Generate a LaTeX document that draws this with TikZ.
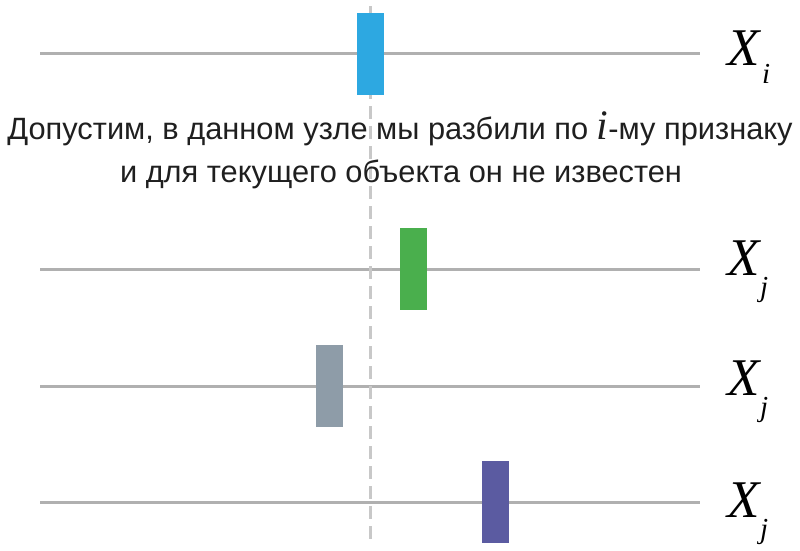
\documentclass[tikz,border=0pt]{standalone}
\usepackage{fontspec}
\setmainfont{Liberation Sans}
\newfontfamily\tms{Liberation Serif}
\definecolor{axisgray}{HTML}{B0B0B0}
\definecolor{dashgray}{HTML}{C8C8C8}
\definecolor{cblue}{HTML}{2DA8E1}
\definecolor{cgreen}{HTML}{4AAF4D}
\definecolor{cgray}{HTML}{8E9CA8}
\definecolor{cpurple}{HTML}{5B5BA1}
\begin{document}
\begin{tikzpicture}[x=1pt,y=-1pt,
  axisline/.style={draw=axisgray,line width=3pt},
  splitline/.style={draw=dashgray,line width=2.5pt,dash pattern=on 13pt off 7pt},
  bar/.style={draw=none,minimum width=27pt,minimum height=82pt,inner sep=0pt,outer sep=0pt},
  xlab/.style={anchor=base west,inner sep=0pt,font=\tms\itshape\fontsize{53}{53}\selectfont},
  sublab/.style={anchor=base west,inner sep=0pt,font=\tms\itshape\fontsize{29}{29}\selectfont},
  caption/.style={anchor=base,inner sep=0pt,font=\fontsize{30.8}{30.8}\selectfont,text=black!88}
]
\useasboundingbox (0,0) rectangle (800,550);
% axes
\coordinate (a1) at (40,53);  \coordinate (b1) at (700,53);
\coordinate (a2) at (40,269); \coordinate (b2) at (700,269);
\coordinate (a3) at (40,386); \coordinate (b3) at (700,386);
\coordinate (a4) at (40,502); \coordinate (b4) at (700,502);
\draw[axisline] (a1) -- (b1);
\draw[axisline] (a2) -- (b2);
\draw[axisline] (a3) -- (b3);
\draw[axisline] (a4) -- (b4);
% split threshold
\coordinate (st) at (370.5,6);
\coordinate (sb) at (370.5,545);
\draw[splitline] (st) -- (sb);
% bars
\node[bar,fill=cblue]   (r1) at (370.5,53.5) {};
\node[bar,fill=cgreen]  (r2) at (413,269) {};
\node[bar,fill=cgray]   (r3) at (329.5,386) {};
\node[bar,fill=cpurple] (r4) at (495.5,502) {};
% labels
\node[xlab] (x1) at (727,65) {X};
\node[sublab] (s1) at (762,83) {i};
\node[xlab] (x2) at (727,275) {X};
\node[sublab] (s2) at (760,296) {j};
\node[xlab] (x3) at (727,395) {X};
\node[sublab] (s3) at (760,416) {j};
\node[xlab] (x4) at (727,517) {X};
\node[sublab] (s4) at (760,538) {j};
% caption
\node[caption] (c1) at (400,139) {Допустим, в данном узле мы разбили по {\tms\itshape\fontsize{42}{42}\selectfont i}-му признаку};
\node[caption] (c2) at (401,182) {и для текущего объекта он не известен};
\end{tikzpicture}
\end{document}
